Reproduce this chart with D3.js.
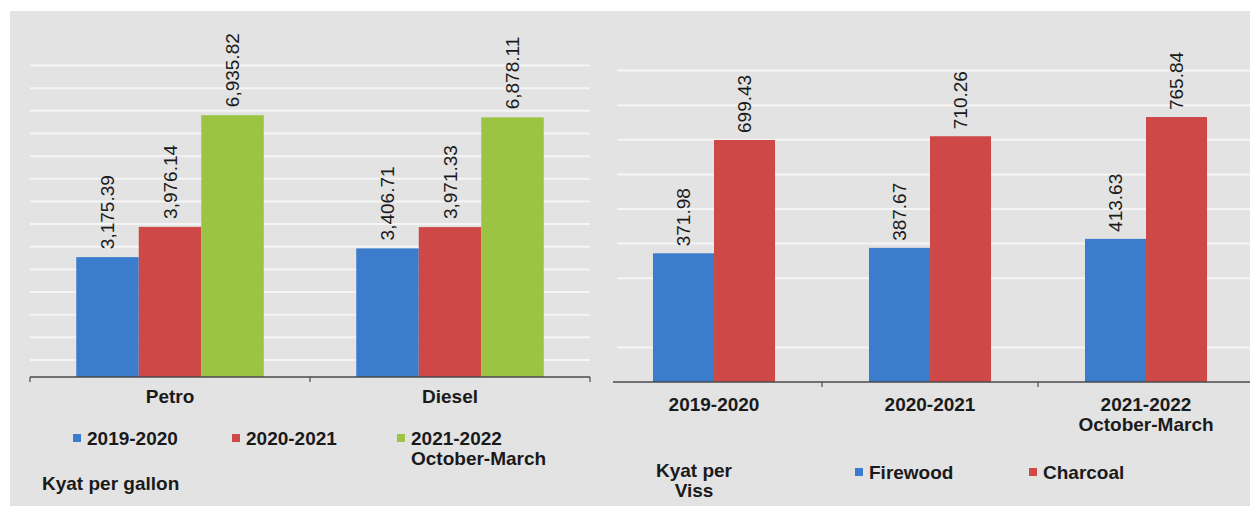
<!DOCTYPE html>
<html>
<head>
<meta charset="utf-8">
<script src="https://cdn.jsdelivr.net/npm/d3@7"></script>
<style>
  html, body { margin: 0; padding: 0; background: #ffffff; }
  svg { display: block; }
  text { font-family: "Liberation Sans", Arial, sans-serif; fill: #1a1a1a; }
</style>
</head>
<body>
<svg id="chart" width="1250" height="515"></svg>
<script>
// Fuel prices (Kyat per gallon)
const fuelTypes = ["Petro", "Diesel"];
const fuelPeriods = ["2019-2020", "2020-2021", "2021-2022\nOctober-March"];
const fuel2019 = [3175.39, 3406.71];
const fuel2020 = [3976.14, 3971.33];
const fuel2021 = [6935.82, 6878.11];
const fuelGridValues = [450, 1050, 1650, 2250, 2850, 3450, 4050, 4650, 5250, 5850, 6450, 7050, 7650, 8250];

// Firewood and charcoal prices (Kyat per Viss)
const woodPeriods = ["2019-2020", "2020-2021", "2021-2022\nOctober-March"];
const woodSeries = ["Firewood", "Charcoal"];
const firewoodValues = [371.98, 387.67, 413.63];
const charcoalValues = [699.43, 710.26, 765.84];
const woodGridValues = [100, 300, 400, 500, 600, 700, 800, 900];

const colors = { blue: "#3b7dcc", red: "#cf4848", green: "#9cc443" };
const boldSize = 19;

const svg = d3.select("#chart");

// background panel
svg.append("rect").attr("x", 10).attr("y", 11).attr("width", 1240).attr("height", 495)
  .attr("fill", "#e3e3e3");

const fmtFuel = d3.format(",.2f");
const fmtWood = d3.format(".2f");

function drawPanel(cfg) {
  const g = svg.append("g");
  const x = d3.scaleBand().domain(cfg.categories).range(cfg.xRange).paddingInner(0).paddingOuter(0);
  const xs = d3.scaleBand().domain(cfg.seriesNames).range([0, x.bandwidth()]).paddingOuter(cfg.outerPad).paddingInner(0);
  const y = d3.scaleLinear().domain(cfg.yDomain).range(cfg.yRange);

  // gridlines
  g.append("g").selectAll("line").data(cfg.grid).join("line")
    .attr("x1", cfg.gridX[0]).attr("x2", cfg.gridX[1])
    .attr("y1", d => y(d)).attr("y2", d => y(d))
    .attr("stroke", "#f7f7f7").attr("stroke-width", 2).attr("opacity", 0.9);

  // bars
  const rows = [];
  cfg.categories.forEach((c, i) => {
    cfg.seriesNames.forEach((s, j) => {
      rows.push({ cat: c, ser: s, value: cfg.values[j][i], color: cfg.colors[j] });
    });
  });
  g.append("g").selectAll("rect").data(rows).join("rect")
    .attr("x", d => x(d.cat) + xs(d.ser))
    .attr("width", xs.bandwidth())
    .attr("y", d => y(d.value))
    .attr("height", d => y(0) - y(d.value))
    .attr("fill", d => d.color);

  // value labels, rotated
  g.append("g").selectAll("text").data(rows).join("text")
    .attr("transform", d => `translate(${x(d.cat) + xs(d.ser) + xs.bandwidth() / 2},${y(d.value) - cfg.labelGap}) rotate(-90)`)
    .attr("text-anchor", "start")
    .attr("dominant-baseline", "central")
    .style("font-size", cfg.labelSize + "px")
    .text(d => cfg.fmt(d.value));

  // baseline axis with boundary ticks
  const axisY = y(0);
  g.append("line").attr("x1", cfg.axisX[0]).attr("x2", cfg.axisX[1])
    .attr("y1", axisY).attr("y2", axisY).attr("stroke", "#4a4a4a").attr("stroke-width", 1.5);
  const bounds = cfg.categories.map(c => x(c)).concat([x.range()[1]])
    .filter(v => v >= cfg.axisX[0] && v <= cfg.axisX[1]);
  g.append("g").selectAll("line").data(bounds).join("line")
    .attr("x1", d => d).attr("x2", d => d).attr("y1", axisY).attr("y2", axisY + 5)
    .attr("stroke", "#4a4a4a").attr("stroke-width", 1.2);

  // category labels
  const cl = g.append("g").selectAll("text").data(cfg.categories).join("text")
    .attr("x", d => x(d) + x.bandwidth() / 2)
    .attr("y", cfg.catY)
    .attr("text-anchor", "middle")
    .style("font-size", boldSize + "px").style("font-weight", "bold");
  cl.selectAll("tspan").data(d => d.split("\n")).join("tspan")
    .attr("x", function () { return d3.select(this.parentNode).attr("x"); })
    .attr("dy", (d, i) => i === 0 ? 0 : 20)
    .text(d => d);
  return g;
}

drawPanel({
  categories: fuelTypes,
  seriesNames: fuelPeriods,
  values: [fuel2019, fuel2020, fuel2021],
  colors: [colors.blue, colors.red, colors.green],
  xRange: [30, 590], outerPad: 0.74,
  yDomain: [0, 8000], yRange: [377, 75],
  grid: fuelGridValues, gridX: [30, 590],
  axisX: [30, 590],
  labelGap: 8, labelSize: 19, fmt: fmtFuel,
  catY: 403
});

drawPanel({
  categories: woodPeriods,
  seriesNames: woodSeries,
  values: [firewoodValues, charcoalValues],
  colors: [colors.blue, colors.red],
  xRange: [606, 1254], outerPad: 0.77,
  yDomain: [0, 900], yRange: [382, 70.6],
  grid: woodGridValues, gridX: [617, 1250],
  axisX: [613, 1250],
  labelGap: 7, labelSize: 19, fmt: fmtWood,
  catY: 411
});

// legends
function legendItem(xm, yc, color, lines) {
  svg.append("rect").attr("x", xm).attr("y", yc - 4).attr("width", 8).attr("height", 8).attr("fill", color);
  const t = svg.append("text").attr("x", xm + 14).attr("y", yc + 7)
    .style("font-size", boldSize + "px").style("font-weight", "bold");
  t.selectAll("tspan").data(lines).join("tspan")
    .attr("x", xm + 14).attr("dy", (d, i) => i === 0 ? 0 : 20).text(d => d);
}
const fuelLegendX = [73, 232, 397];
fuelPeriods.forEach((p, i) => legendItem(fuelLegendX[i], 438, [colors.blue, colors.red, colors.green][i], p.split("\n")));

svg.append("text").attr("x", 42).attr("y", 490)
  .style("font-size", boldSize + "px").style("font-weight", "bold").text("Kyat per gallon");

const woodLegendX = [855, 1029];
woodSeries.forEach((s, i) => legendItem(woodLegendX[i], 472, [colors.blue, colors.red][i], [s]));

const unitR = svg.append("text").attr("x", 694).attr("y", 477).attr("text-anchor", "middle")
  .style("font-size", boldSize + "px").style("font-weight", "bold");
unitR.selectAll("tspan").data(["Kyat per", "Viss"]).join("tspan")
  .attr("x", 694).attr("dy", (d, i) => i === 0 ? 0 : 20).text(d => d);
</script>
</body>
</html>
